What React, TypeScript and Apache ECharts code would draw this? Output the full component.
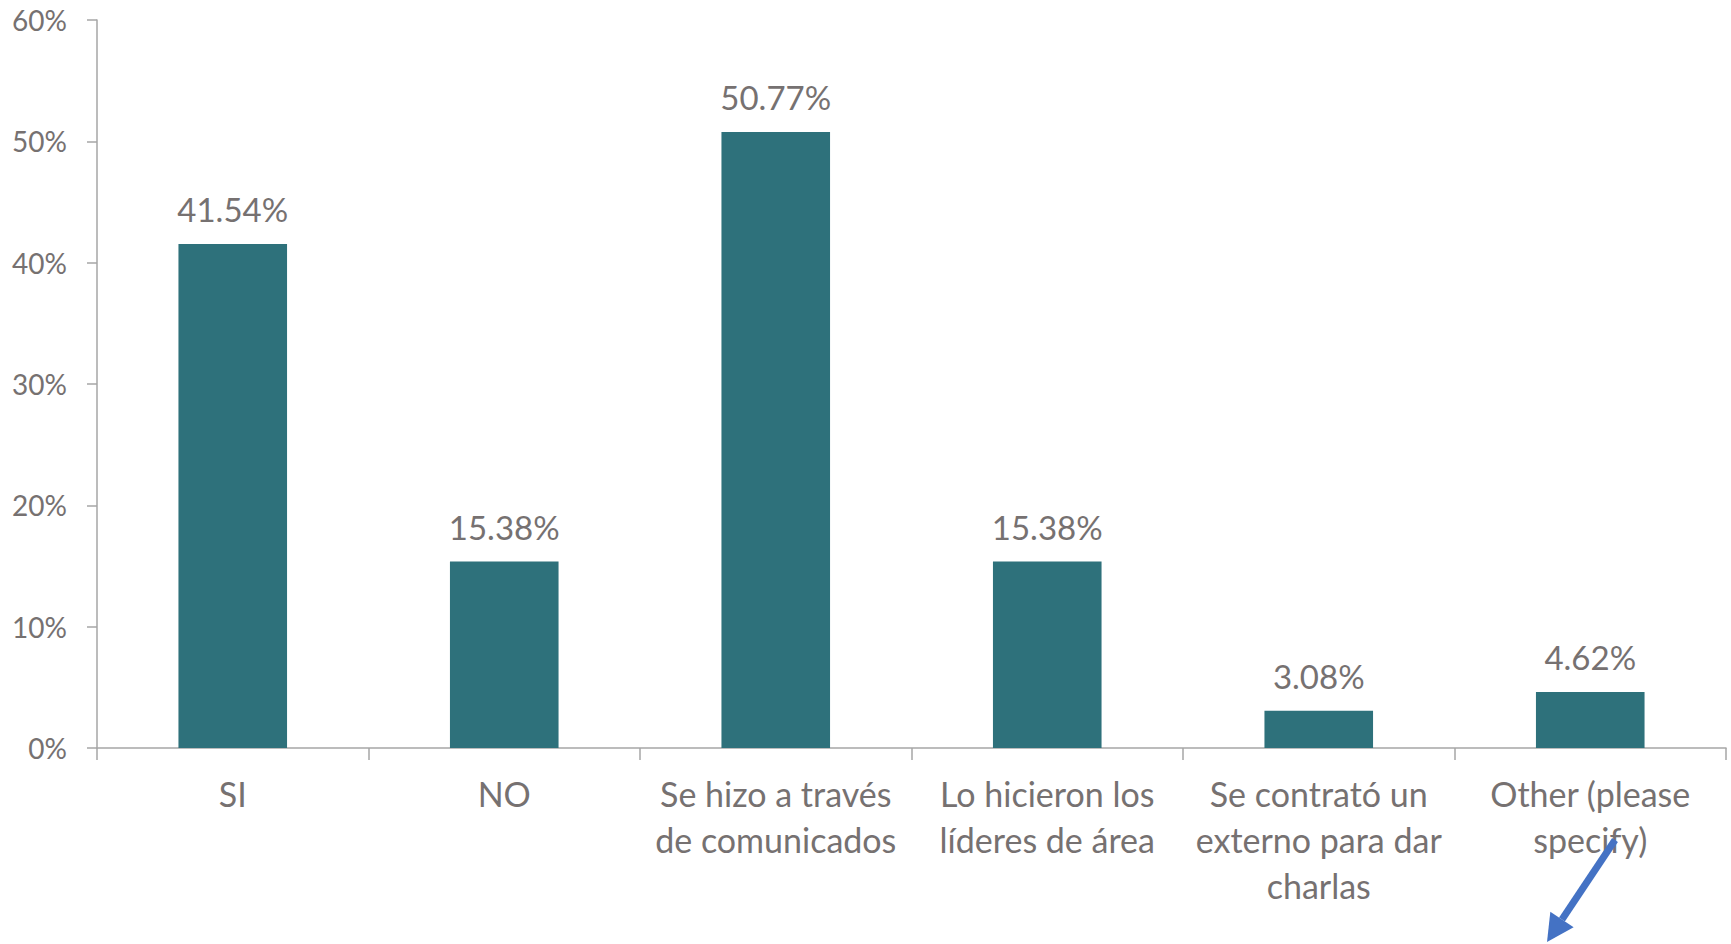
import React, { useEffect, useRef } from "react";
import * as echarts from "echarts";

const categories = [
  "SI",
  "NO",
  "Se hizo a través\nde comunicados",
  "Lo hicieron los\nlíderes de área",
  "Se contrató un\nexterno para dar\ncharlas",
  "Other (please\nspecify)",
];
const values = [0.4154, 0.1538, 0.5077, 0.1538, 0.0308, 0.0462];
const yTicks = { min: 0, max: 0.6, interval: 0.1 };

const BAR = "#2E717B";
const TEXT = "#767171";
const AXIS = "#A6A6A6";
const FONT = "Lato, 'Open Sans', sans-serif";

export default function App() {
  const ref = useRef<HTMLDivElement>(null);
  useEffect(() => {
    if (!ref.current) return;
    const chart = echarts.init(ref.current, undefined, { renderer: "svg" });
    // arrow annotation geometry
    const start = [1615, 840];
    const tip = [1547, 942];
    const dx = tip[0] - start[0];
    const dy = tip[1] - start[1];
    const len = Math.sqrt(dx * dx + dy * dy);
    const ux = dx / len;
    const uy = dy / len;
    const L = 27;
    const W = 14;
    const bx = tip[0] - L * ux;
    const by = tip[1] - L * uy;
    const nx = -uy;
    const ny = ux;
    chart.setOption({
      animation: false,
      backgroundColor: "#ffffff",
      grid: { left: 97, right: 5, top: 20, bottom: 196, containLabel: false },
      xAxis: {
        type: "category",
        data: categories,
        boundaryGap: true,
        axisLine: { show: true, lineStyle: { color: AXIS, width: 1.5 } },
        axisTick: { show: true, length: 12, lineStyle: { color: AXIS, width: 1.5 } },
        axisLabel: {
          interval: 0,
          margin: 22,
          color: TEXT,
          fontFamily: FONT,
          fontSize: 34,
          lineHeight: 46,
          verticalAlign: "top",
        },
      },
      yAxis: {
        type: "value",
        min: yTicks.min,
        max: yTicks.max,
        interval: yTicks.interval,
        splitLine: { show: false },
        axisLine: { show: true, lineStyle: { color: AXIS, width: 1.5 } },
        axisTick: { show: true, length: 10, lineStyle: { color: AXIS, width: 1.5 } },
        axisLabel: {
          margin: 30,
          color: TEXT,
          fontFamily: FONT,
          fontSize: 28,
          formatter: (v: number) => Math.round(v * 100) + "%",
        },
      },
      series: [
        {
          type: "bar",
          data: values,
          barWidth: "40%",
          itemStyle: { color: BAR },
          label: {
            show: true,
            position: "top",
            distance: 18,
            color: TEXT,
            fontFamily: FONT,
            fontSize: 33,
            formatter: (p: any) => (p.value * 100).toFixed(2) + "%",
          },
        },
      ],
      graphic: [
        {
          type: "line",
          shape: { x1: start[0], y1: start[1], x2: bx, y2: by },
          style: { stroke: "#4472C4", lineWidth: 7 },
          z: 100,
        },
        {
          type: "polygon",
          shape: {
            points: [
              [tip[0], tip[1]],
              [bx + W * nx, by + W * ny],
              [bx - W * nx, by - W * ny],
            ],
          },
          style: { fill: "#4472C4" },
          z: 100,
        },
      ],
    });
    return () => chart.dispose();
  }, []);
  return (
    <div
      ref={ref}
      style={{ position: "absolute", left: 0, top: 0, width: 1731, height: 944 }}
    />
  );
}
